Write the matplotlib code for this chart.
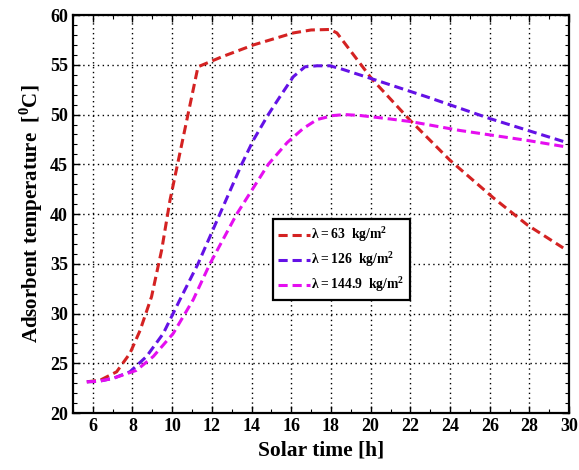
import matplotlib.pyplot as plt
from matplotlib.ticker import MultipleLocator

# 일사 시간 [h] 와 흡착제 온도 [°C]
t_63 = [5.7, 6.36, 7.2, 7.87, 8.38, 8.96, 9.47, 9.89, 11.3,
        12.5, 14.1, 16.1, 17.0, 17.95, 18.3, 20.05, 22.0, 24.0, 26.2, 27.9, 29.7]
T_63 = [23.15, 23.3, 24.15, 26.0, 28.3, 31.7, 36.4, 41.4, 54.8,
        55.8, 57.0, 58.2, 58.5, 58.55, 58.2, 53.6, 49.4, 45.4, 41.6, 38.9, 36.6]

t_126 = [5.7, 6.3, 7.03, 7.87, 8.71, 9.55, 10.39, 11.3, 12.4, 13.5,
         14.08, 14.84, 15.43, 16.1, 16.69, 17.3, 17.95, 18.5, 20.05, 22.8, 26.0, 29.7]
T_126 = [23.15, 23.2, 23.5, 24.15, 25.7, 28.0, 31.4, 35.0, 40.0, 45.0,
         47.4, 50.0, 51.8, 53.8, 54.8, 54.9, 54.9, 54.6, 53.6, 51.8, 49.6, 47.3]

t_145 = [5.7, 6.3, 7.03, 8.2, 9.05, 10.05, 11.06, 11.9, 13.25, 14.84,
         15.8, 16.6, 17.3, 18.1, 18.7, 19.5, 20.8, 22.0, 24.5, 27.9, 29.7]
T_145 = [23.15, 23.2, 23.5, 24.3, 25.7, 28.0, 31.4, 35.0, 40.0, 45.0,
         47.2, 48.6, 49.5, 49.9, 50.0, 49.9, 49.6, 49.3, 48.4, 47.4, 46.8]

plt.rcParams['font.family'] = ['Liberation Serif', 'DejaVu Serif']
plt.rcParams['mathtext.fontset'] = 'custom'
plt.rcParams['mathtext.rm'] = 'Liberation Serif:bold'
plt.rcParams['mathtext.bf'] = 'Liberation Serif:bold'

fig = plt.figure(figsize=(5.79, 4.70), dpi=100)
ax = fig.add_axes([0.126, 0.121, 0.857, 0.847])

ax.plot(t_63, T_63, '--', color='#d42222', lw=2.2, dashes=(3, 1.6),
        label=r'$\mathbf{\lambda = 63}$  kg/m$^{\mathbf{2}}$')
ax.plot(t_126, T_126, '--', color='#6411e6', lw=2.2, dashes=(3, 1.6),
        label=r'$\mathbf{\lambda = 126}$  kg/m$^{\mathbf{2}}$')
ax.plot(t_145, T_145, '--', color='#e50ef0', lw=2.2, dashes=(3, 1.6),
        label=r'$\mathbf{\lambda = 144.9}$  kg/m$^{\mathbf{2}}$')

ax.set_xlim(5, 30)
ax.set_ylim(20, 60)
ax.xaxis.set_minor_locator(MultipleLocator(1))
ax.yaxis.set_major_locator(MultipleLocator(5))
ax.yaxis.set_minor_locator(MultipleLocator(1))
ax.set_xticks(range(6, 31, 2))

ax.grid(True, which='major', linestyle=(0, (1, 2.5)), color='black', lw=1.0)
ax.tick_params(which='both', direction='in', top=True, right=True)
ax.tick_params(which='major', length=5, width=1, labelsize=13)
ax.tick_params(which='minor', length=3, width=0.8)
for lab in ax.get_xticklabels() + ax.get_yticklabels():
    lab.set_fontweight('bold')
for sp in ax.spines.values():
    sp.set_linewidth(1.6)

ax.set_xlabel('Solar time [h]', fontsize=15.5, fontweight='bold')
ax.set_ylabel(r'Adsorbent temperature  [$^{\mathbf{0}}$C]', fontsize=15, fontweight='bold')

leg = ax.legend(loc='upper left', bbox_to_anchor=(0.403, 0.487), fancybox=False,
                edgecolor='black', framealpha=1, handlelength=2.3,
                handletextpad=0.1, borderpad=0.4, labelspacing=0.4,
                borderaxespad=0, prop={'weight': 'bold', 'size': 9.8})
leg.get_frame().set_linewidth(1.6)

plt.savefig('out.png', dpi=100)
